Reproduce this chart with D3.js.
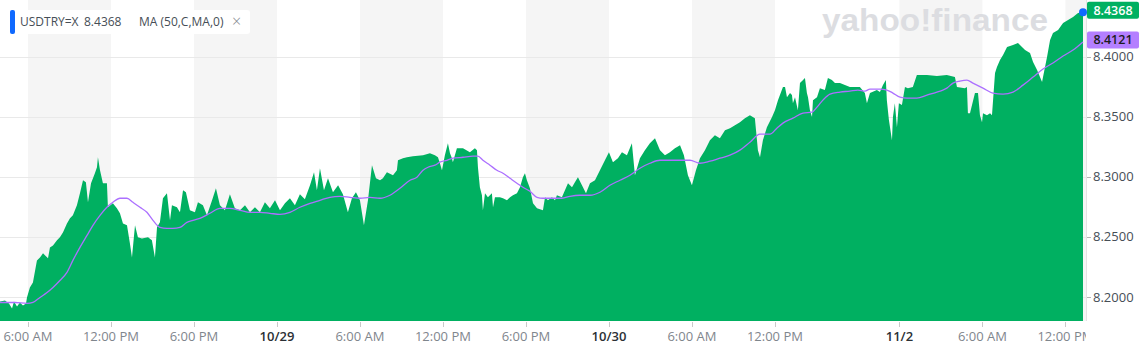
<!DOCTYPE html>
<html>
<head>
<meta charset="utf-8">
<script src="https://cdn.jsdelivr.net/npm/d3@7"></script>
<style>
  body { margin: 0; background: #fff; }
  svg { display: block; font-family: "Open Sans", sans-serif; }
</style>
</head>
<body>
<div id="chart"></div>
<script>

// price series: hours since 10/28 00:00, and USDTRY close
var areaHours = [3.98, 4.34, 4.63, 4.85, 4.99, 5.21, 5.42, 5.64, 5.86, 5.93, 6.14, 6.36, 6.65, 6.87, 7.09, 7.45, 7.59, 7.81, 8.10, 8.31,
  8.53, 8.82, 9.04, 9.25, 9.54, 9.76, 9.98, 10.19, 10.34, 10.56, 10.84, 10.99, 11.06, 11.21, 11.42, 11.71, 11.78, 12.14, 12.43, 12.65,
  12.87, 13.16, 13.37, 13.52, 13.74, 13.95, 14.24, 14.68, 14.96, 15.18, 15.33, 15.54, 15.76, 16.05, 16.27, 16.41, 16.77, 16.99, 17.21, 17.42,
  17.71, 18.07, 18.29, 18.65, 18.94, 19.31, 19.59, 19.88, 20.24, 20.60, 20.96, 21.33, 21.69, 22.05, 22.41, 22.77, 23.13, 23.49, 23.86, 24.22,
  24.58, 24.94, 25.30, 25.66, 26.02, 26.39, 26.68, 26.89, 27.11, 27.40, 27.69, 28.05, 28.42, 28.77, 29.13, 29.42, 29.71, 30.00, 30.29, 30.58,
  30.87, 31.16, 31.45, 31.66, 31.95, 32.39, 32.67, 32.75, 33.11, 33.40, 33.83, 34.56, 35.06, 35.42, 35.64, 35.78, 35.93, 36.14, 36.36, 36.51,
  36.65, 36.72, 37.01, 37.45, 37.95, 38.31, 38.46, 38.53, 38.67, 38.82, 38.89, 39.04, 39.25, 39.54, 39.62, 39.76, 40.12, 40.34, 40.63, 40.85,
  41.06, 41.35, 41.57, 41.78, 41.93, 42.07, 42.29, 42.51, 42.80, 43.23, 43.38, 43.59, 43.88, 44.10, 44.24, 44.60, 44.82, 45.04, 45.33, 45.54,
  45.76, 46.05, 46.34, 46.63, 46.99, 47.35, 47.71, 48.00, 48.29, 48.65, 48.94, 49.30, 49.66, 49.88, 50.24, 50.60, 50.96, 51.33, 51.69, 52.05,
  52.41, 52.77, 53.14, 53.42, 53.71, 54.00, 54.29, 54.58, 54.94, 55.30, 55.66, 56.02, 56.39, 56.75, 57.11, 57.47, 57.83, 58.19, 58.55, 58.77,
  58.92, 59.13, 59.42, 59.79, 60.00, 60.22, 60.58, 60.73, 60.87, 61.09, 61.23, 61.30, 61.45, 61.66, 61.81, 62.03, 62.17, 62.31, 62.39, 62.53,
  62.68, 62.75, 63.04, 63.25, 63.61, 63.83, 64.12, 64.34, 64.70, 65.06, 65.42, 65.78, 66.00,
  117.14, 117.50, 117.65, 117.87, 118.37, 118.59, 118.81, 119.02, 119.09, 119.24, 119.46, 119.53, 119.67, 119.82, 119.96, 120.18, 120.40,
  120.61, 120.97, 121.26, 121.99, 122.71, 123.43, 124.01, 124.16, 124.73, 124.88, 124.95, 125.10, 125.46, 125.68, 125.82, 125.97, 126.04,
  126.33, 126.55, 126.69, 126.91, 127.05, 127.27, 127.49, 127.78, 128.21, 128.57, 128.86, 129.08, 129.44, 129.66, 129.95, 130.16, 130.31,
  130.38, 130.67, 130.89, 131.10, 131.47, 131.83, 132.19, 132.55, 132.91, 133.27];

var areaPrices = [8.1962, 8.1971, 8.1946, 8.1904, 8.1962, 8.1921, 8.1954, 8.1929, 8.1946, 8.1996, 8.2079, 8.2121, 8.2304, 8.2329, 8.2363, 8.2321, 8.2412, 8.2429, 8.2471, 8.2496,
  8.2537, 8.2612, 8.2654, 8.2679, 8.2762, 8.2862, 8.2971, 8.2954, 8.2787, 8.2946, 8.3029, 8.3079, 8.3162, 8.3054, 8.2946, 8.2946, 8.2746, 8.2779, 8.2737, 8.2696,
  8.2612, 8.2596, 8.2446, 8.2329, 8.2596, 8.2496, 8.2487, 8.2496, 8.2471, 8.2329, 8.2579, 8.2621, 8.2821, 8.2862, 8.2637, 8.2762, 8.2746, 8.2704, 8.2887, 8.2871,
  8.2721, 8.2704, 8.2787, 8.2762, 8.2679, 8.2804, 8.2904, 8.2762, 8.2721, 8.2854, 8.2737, 8.2721, 8.2762, 8.2704, 8.2746, 8.2704, 8.2787, 8.2737, 8.2804, 8.2721,
  8.2779, 8.2821, 8.2762, 8.2854, 8.2812, 8.2929, 8.3037, 8.2887, 8.3071, 8.2887, 8.2987, 8.2871, 8.2929, 8.2854, 8.2704, 8.2821, 8.2871, 8.2804, 8.2596, 8.2804,
  8.3096, 8.2987, 8.2971, 8.2987, 8.3037, 8.3012, 8.3054, 8.3137, 8.3154, 8.3162, 8.3171, 8.3179, 8.3196, 8.3179, 8.3162, 8.3112, 8.3054, 8.3179, 8.3279, 8.3196,
  8.3154, 8.3121, 8.3237, 8.3237, 8.3204, 8.3237, 8.3221, 8.3079, 8.2912, 8.2846, 8.2721, 8.2862, 8.2829, 8.2862, 8.2746, 8.2829, 8.2829, 8.2821, 8.2804, 8.2829,
  8.2846, 8.2862, 8.2912, 8.2996, 8.3029, 8.2971, 8.2904, 8.2779, 8.2737, 8.2721, 8.2829, 8.2804, 8.2829, 8.2804, 8.2846, 8.2829, 8.2887, 8.2946, 8.2912, 8.2954,
  8.2996, 8.2929, 8.2862, 8.2946, 8.2971, 8.3054, 8.3137, 8.3204, 8.3121, 8.3154, 8.3204, 8.3179, 8.3279, 8.3012, 8.3154, 8.3221, 8.3279, 8.3321, 8.3221, 8.3179,
  8.3204, 8.3237, 8.3262, 8.3179, 8.3012, 8.2929, 8.3054, 8.3154, 8.3221, 8.3304, 8.3346, 8.3321, 8.3387, 8.3404, 8.3429, 8.3454, 8.3487, 8.3512, 8.3487, 8.3221,
  8.3162, 8.3304, 8.3412, 8.3496, 8.3554, 8.3637, 8.3746, 8.3746, 8.3662, 8.3696, 8.3679, 8.3612, 8.3662, 8.3554, 8.3779, 8.3804, 8.3821, 8.3696, 8.3662, 8.3554,
  8.3496, 8.3637, 8.3662, 8.3737, 8.3721, 8.3821, 8.3804, 8.3779, 8.3779, 8.3762, 8.3746, 8.3746, 8.3746,
  8.3746, 8.3696, 8.3612, 8.3696, 8.3721, 8.3704, 8.3762, 8.3804, 8.3637, 8.3471, 8.3304, 8.3496, 8.3612, 8.3412, 8.3612, 8.3596, 8.3746,
  8.3737, 8.3746, 8.3846, 8.3846, 8.3837, 8.3846, 8.3829, 8.3746, 8.3737, 8.3746, 8.3529, 8.3529, 8.3696, 8.3696, 8.3512, 8.3454, 8.3529,
  8.3512, 8.3529, 8.3512, 8.3862, 8.3912, 8.3971, 8.4012, 8.4079, 8.4096, 8.4112, 8.4079, 8.4054, 8.4029, 8.3954, 8.3887, 8.3829, 8.3787,
  8.3829, 8.3996, 8.4137, 8.4196, 8.4221, 8.4279, 8.4304, 8.4329, 8.4362, 8.4368];

// moving average MA(50)
var maHours = [3.98, 5.06, 5.93, 6.36, 6.87, 7.38, 7.81, 8.31, 8.82, 9.25, 9.76, 10.27, 10.70, 11.21, 11.71, 12.14, 12.65, 13.16, 13.59, 14.10,
  14.60, 15.04, 15.54, 16.05, 16.48, 16.99, 17.49, 17.93, 18.43, 19.16, 19.88, 20.60, 21.33, 22.05, 22.77, 23.49, 24.22, 24.94, 25.66, 26.39,
  27.11, 27.83, 28.55, 29.28, 30.00, 30.72, 31.45, 32.17, 32.89, 33.62, 34.12, 34.56, 34.92, 35.42, 35.78, 36.29, 36.72, 37.45, 38.17, 38.53,
  38.89, 39.40, 39.90, 40.34, 40.85, 41.35, 41.78, 42.29, 42.80, 43.23, 43.95, 44.60, 45.18, 45.90, 46.63, 47.35, 48.07, 48.80, 49.52, 50.24,
  50.96, 51.69, 52.41, 53.14, 53.86, 54.58, 55.30, 56.02, 56.75, 57.47, 58.19, 58.92, 59.64, 60.14, 60.58, 61.30, 62.03, 62.68, 63.04, 63.47,
  63.98, 64.70, 65.42, 66.00,
  117.50, 117.87, 118.59, 119.09, 119.53, 120.04, 120.54, 121.26, 121.99, 122.71, 123.14, 123.43, 123.87, 124.37, 124.88, 125.31, 126.04,
  126.76, 127.49, 128.21, 128.93, 129.66, 130.38, 131.10, 131.83, 132.55, 133.27];

var maPrices = [8.1954, 8.1954, 8.1946, 8.1954, 8.1996, 8.2037, 8.2079, 8.2137, 8.2204, 8.2304, 8.2412, 8.2512, 8.2596, 8.2679, 8.2746, 8.2787, 8.2821, 8.2821, 8.2787, 8.2746,
  8.2704, 8.2637, 8.2579, 8.2571, 8.2571, 8.2579, 8.2621, 8.2637, 8.2654, 8.2696, 8.2737, 8.2737, 8.2721, 8.2704, 8.2704, 8.2696, 8.2687, 8.2704, 8.2746, 8.2779,
  8.2804, 8.2829, 8.2837, 8.2829, 8.2821, 8.2829, 8.2821, 8.2846, 8.2904, 8.2971, 8.2996, 8.3054, 8.3079, 8.3096, 8.3121, 8.3137, 8.3154, 8.3162, 8.3171, 8.3171,
  8.3137, 8.3096, 8.3054, 8.3029, 8.2987, 8.2946, 8.2912, 8.2879, 8.2829, 8.2821, 8.2821, 8.2821, 8.2837, 8.2846, 8.2846, 8.2871, 8.2929, 8.2971, 8.3012, 8.3071,
  8.3112, 8.3137, 8.3137, 8.3137, 8.3137, 8.3112, 8.3129, 8.3154, 8.3179, 8.3221, 8.3287, 8.3354, 8.3354, 8.3404, 8.3446, 8.3487, 8.3529, 8.3537, 8.3579, 8.3637,
  8.3687, 8.3704, 8.3712, 8.3721,
  8.3712, 8.3729, 8.3729, 8.3721, 8.3696, 8.3662, 8.3654, 8.3654, 8.3679, 8.3704, 8.3721, 8.3737, 8.3779, 8.3796, 8.3804, 8.3779, 8.3737,
  8.3696, 8.3687, 8.3704, 8.3762, 8.3829, 8.3896, 8.3946, 8.4004, 8.4054, 8.4121];

// x axis ticks (hours since 10/28 00:00)
var tickHours = [6, 12, 18, 24, 30, 36, 42, 48, 54, 60, 120, 126, 132];
var tickLabels = ["6:00 AM", "12:00 PM", "6:00 PM", "10/29", "6:00 AM", "12:00 PM", "6:00 PM", "10/30", "6:00 AM", "12:00 PM", "11/2", "6:00 AM", "12:00 PM"];
var dateTicks = ["10/29", "10/30", "11/2"];
var yTicks = [8.20, 8.25, 8.30, 8.35, 8.40];

// weekend gap: market closed between these hours
var friClose = 66, sunOpen = 117;

var lastPrice = 8.4368, lastMa = 8.4121;

var width = 1141, height = 351;
var plotW = 1086, plotH = 321, dataRight = 1083;

var svg = d3.select('#chart')
  .append('svg')
    .attr('width', width)
    .attr('height', height);

function tradingTime(h) {
  return h <= friClose ? h : h - (sunOpen - friClose);
}

var x = d3.scaleLinear()
  .domain([tradingTime(areaHours[0]), tradingTime(areaHours[areaHours.length - 1])])
  .range([0, dataRight]);

function xPos(h) { return x(tradingTime(h)); }

var y = d3.scaleLinear()
  .domain([8.18, 8.447])
  .range([plotH, 0]);

var area_data = areaHours.map(function(h, i) { return {h: h, p: areaPrices[i]}; });
var ma_data = maHours.map(function(h, i) { return {h: h, p: maPrices[i]}; });

// alternating gray bands between ticks
var bands = [];
tickHours.forEach(function(h, i) {
  if (i % 2 == 0) {
    var x0 = xPos(h);
    var x1 = i + 1 < tickHours.length ? xPos(tickHours[i + 1]) : plotW;
    bands.push([x0, x1]);
  }
});

svg.append('g').selectAll('rect')
  .data(bands)
  .enter().append('rect')
    .attr('x', function(d) { return d[0]; })
    .attr('y', 0)
    .attr('width', function(d) { return d[1] - d[0]; })
    .attr('height', plotH)
    .attr('fill', '#f5f5f5');

// horizontal grid lines
svg.append('g').selectAll('line')
  .data(yTicks)
  .enter().append('line')
    .attr('x1', 0)
    .attr('x2', plotW)
    .attr('y1', function(d) { return Math.round(y(d)) + 0.5; })
    .attr('y2', function(d) { return Math.round(y(d)) + 0.5; })
    .attr('stroke', '#e9e9e9')
    .attr('stroke-width', 1);

// watermark
svg.append('text')
  .attr('x', 822)
  .attr('y', 31)
  .attr('textLength', 226)
  .attr('lengthAdjust', 'spacingAndGlyphs')
  .style('font-family', 'Liberation Sans, Arial, sans-serif')
  .style('font-weight', 'bold')
  .style('font-size', '31px')
  .style('fill', '#dcdde1')
  .text('yahoo!finance');

// price area
var area = d3.area()
  .x(function(d) { return xPos(d.h); })
  .y0(plotH)
  .y1(function(d) { return y(d.p); });

svg.append('path')
  .datum(area_data)
  .attr('d', area)
  .attr('fill', '#00b061');

// moving average line
var line = d3.line()
  .x(function(d) { return xPos(d.h); })
  .y(function(d) { return y(d.p); })
  .curve(d3.curveMonotoneX);

svg.append('path')
  .datum(ma_data)
  .attr('d', line)
  .attr('fill', 'none')
  .attr('stroke', '#ac70ff')
  .attr('stroke-width', 1.3);

// right edge line
svg.append('line')
  .attr('x1', plotW + 0.5).attr('x2', plotW + 0.5)
  .attr('y1', 0).attr('y2', plotH)
  .attr('stroke', '#e3e3e3');

// x axis
svg.append('clipPath').attr('id', 'xclip')
  .append('rect').attr('x', 0).attr('y', plotH).attr('width', plotW).attr('height', 30);

var xg = svg.append('g').attr('clip-path', 'url(#xclip)');

xg.selectAll('line')
  .data(tickHours)
  .enter().append('line')
    .attr('x1', function(d) { return Math.round(xPos(d)) + 0.5; })
    .attr('x2', function(d) { return Math.round(xPos(d)) + 0.5; })
    .attr('y1', plotH + 1)
    .attr('y2', plotH + 6)
    .attr('stroke', '#c9c9c9');

xg.selectAll('text')
  .data(tickHours)
  .enter().append('text')
    .attr('x', function(d) { return xPos(d); })
    .attr('y', 341)
    .style('text-anchor', 'middle')
    .style('font-size', '13px')
    .style('fill', function(d, i) { return dateTicks.indexOf(tickLabels[i]) >= 0 ? '#2b3035' : '#7f868d'; })
    .style('font-weight', function(d, i) { return dateTicks.indexOf(tickLabels[i]) >= 0 ? 600 : 400; })
    .text(function(d, i) { return tickLabels[i]; });

// y axis on the right
var yg = svg.append('g');

yg.selectAll('line')
  .data(yTicks)
  .enter().append('line')
    .attr('x1', plotW + 1)
    .attr('x2', plotW + 5)
    .attr('y1', function(d) { return Math.round(y(d)) + 0.5; })
    .attr('y2', function(d) { return Math.round(y(d)) + 0.5; })
    .attr('stroke', '#b5b5b5');

yg.selectAll('text')
  .data(yTicks)
  .enter().append('text')
    .attr('x', plotW + 7)
    .attr('y', function(d) { return y(d); })
    .attr('dy', '0.35em')
    .style('font-size', '13px')
    .style('fill', '#464e56')
    .text(function(d) { return d3.format('.4f')(d); });

// last price marker
svg.append('circle')
  .attr('cx', xPos(areaHours[areaHours.length - 1]))
  .attr('cy', y(lastPrice))
  .attr('r', 4)
  .attr('fill', '#0f69ff');

// value flags on the right
var flags = [
  {v: lastPrice, bg: '#00b061', fg: '#ffffff'},
  {v: lastMa, bg: '#b47fff', fg: '#1d1d1d'}
];

var flag = svg.selectAll('.flag')
  .data(flags)
  .enter().append('g')
    .attr('class', 'flag')
    .attr('transform', function(d) { return 'translate(' + (plotW + 1) + ',' + (y(d.v) - 2) + ')'; });

flag.append('rect')
  .attr('x', 0)
  .attr('y', -8.5)
  .attr('width', 52)
  .attr('height', 17)
  .attr('rx', 2)
  .attr('fill', function(d) { return d.bg; });

flag.append('text')
  .attr('x', 26)
  .attr('y', 0)
  .attr('dy', '0.36em')
  .style('text-anchor', 'middle')
  .style('font-size', '12.5px')
  .style('font-weight', 600)
  .style('fill', function(d) { return d.fg; })
  .text(function(d) { return d3.format('.4f')(d.v); });

// legend box
var legend = svg.append('g');

legend.append('rect')
  .attr('x', 10)
  .attr('y', 10)
  .attr('width', 240)
  .attr('height', 24)
  .attr('rx', 3)
  .attr('fill', '#ffffff');

legend.append('rect')
  .attr('x', 10)
  .attr('y', 10)
  .attr('width', 5)
  .attr('height', 24)
  .attr('rx', 2)
  .attr('fill', '#0f69ff');

legend.append('text')
  .attr('x', 20)
  .attr('y', 26)
  .style('font-size', '12px')
  .style('fill', '#464e56')
  .text('USDTRY=X');

legend.append('text')
  .attr('x', 84)
  .attr('y', 26)
  .style('font-size', '12px')
  .style('fill', '#464e56')
  .text(d3.format('.4f')(lastPrice));

legend.append('text')
  .attr('x', 139)
  .attr('y', 26)
  .style('font-size', '12px')
  .style('fill', '#464e56')
  .text('MA (50,C,MA,0)');

legend.append('text')
  .attr('x', 232)
  .attr('y', 27)
  .style('font-size', '16px')
  .style('font-weight', 300)
  .style('fill', '#7f868d')
  .text('×');

</script>
</body>
</html>
